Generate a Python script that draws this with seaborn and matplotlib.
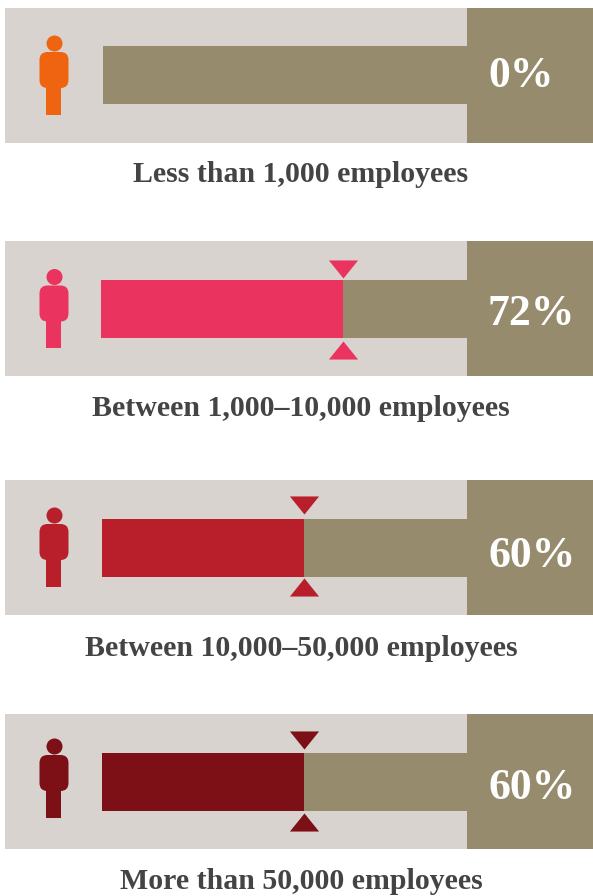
import matplotlib
matplotlib.use("Agg")
import matplotlib.pyplot as plt
import seaborn as sns
from matplotlib.patches import Circle, FancyBboxPatch, Rectangle
from matplotlib.transforms import Affine2D

# data
groups = ["Less than 1,000 employees", "Between 1,000\u201310,000 employees",
          "Between 10,000\u201350,000 employees", "More than 50,000 employees"]
shares = [0, 72, 60, 60]
share_labels = ["0%", "72%", "60%", "60%"]
colors = ["#ee6411", "#ea335e", "#b81f2b", "#7d0f17"]

GREY = "#d8d3cf"
OLIVE = "#978b6d"
TEXT = "#444444"
W, H = 593, 896

# layout in pixels of the reference
panel_tops = [8, 241, 480, 714]
panel_h = 135
panel_left = 5
zero_px = [103, 101, 102, 102]
px_per_pct = 3.365
block_left = 467
label_y = [175, 408, 648, 881]
value_y = [76, 314, 556, 788]
icon_shift = [0, 0.5, 0, -3]
tri_top = [0, 28, 25, 26]
tri_bottom = [0, 109, 107, 108]
bar_h = 58 / 135

sns.set_theme(style="white")
plt.rcParams["font.family"] = ["Liberation Serif", "DejaVu Serif"]

fig = plt.figure(figsize=(W / 100, H / 100), dpi=100, facecolor="white")

tri_down = [(-1, 0.62), (1, 0.62), (0, -0.62), (-1, 0.62)]
tri_up = [(-1, -0.62), (1, -0.62), (0, 0.62), (-1, -0.62)]


def add_person(ax, top, color):
    # icon is drawn in pixels, y going down from the panel top
    tr = Affine2D().scale(1, -1).translate(0, H - top)
    ax.add_patch(Circle((54.5, 35.5), 8, color=color, transform=tr, clip_on=False, lw=0))
    ax.add_patch(Rectangle((46, 70), 15, 36.5, color=color, transform=tr, clip_on=False, lw=0))
    ax.add_patch(FancyBboxPatch((39.5, 44), 29, 36, boxstyle="round,pad=0,rounding_size=8",
                                color=color, transform=tr, clip_on=False, lw=0))


for i, group in enumerate(groups):
    top = panel_tops[i]
    ax = fig.add_axes([panel_left / W, 1 - (top + panel_h) / H, (W - panel_left) / W, panel_h / H])
    ax.set_facecolor(GREY)
    xmin = (panel_left - zero_px[i]) / px_per_pct
    xmax = (W - zero_px[i]) / px_per_pct
    block = (block_left - zero_px[i]) / px_per_pct

    # olive track, then the share on top of it
    sns.barplot(x=[xmax], y=[group], color=OLIVE, width=bar_h, saturation=1, ax=ax,
                orient="h", linewidth=0)
    if shares[i] > 0:
        sns.barplot(x=[shares[i]], y=[group], color=colors[i], width=bar_h, saturation=1, ax=ax,
                    orient="h", linewidth=0)
        ax.plot([shares[i]], [(tri_top[i] - 67.5) / panel_h], marker=tri_down, ms=21,
                color=colors[i], mew=0, ls="none")
        ax.plot([shares[i]], [(tri_bottom[i] - 67.5) / panel_h], marker=tri_up, ms=21,
                color=colors[i], mew=0, ls="none")
    ax.axvspan(block, xmax, color=OLIVE, lw=0)

    ax.set_xlim(xmin, xmax)
    ax.set_ylim(0.5, -0.5)
    ax.set_xlabel("")
    ax.set_ylabel("")
    ax.set_xticks([])
    ax.set_yticks([])
    sns.despine(ax=ax, left=True, bottom=True)
    add_person(ax, top + icon_shift[i], colors[i])

    fig.text(301 / W, 1 - label_y[i] / H, group, ha="center", va="center",
             fontsize=21.5, fontweight="bold", color=TEXT)
    fig.text(488 / W, 1 - value_y[i] / H, share_labels[i], ha="left", va="center",
             fontsize=31.5, fontweight="bold", color="white")

fig.savefig("out.png", dpi=100)
